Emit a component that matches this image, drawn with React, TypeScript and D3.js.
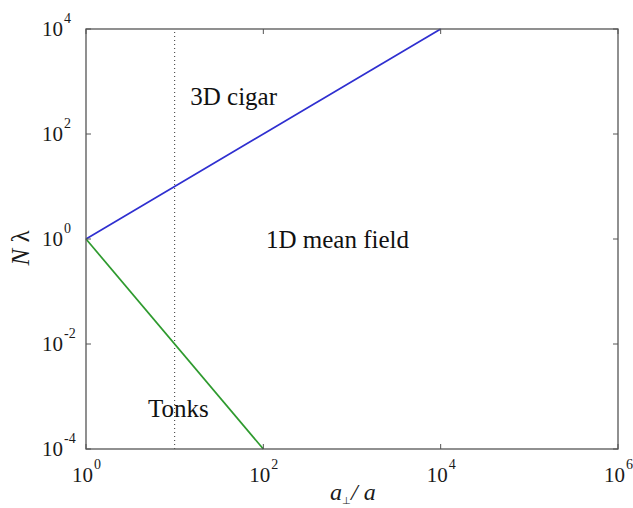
import { useEffect, useRef } from "react"
import * as d3 from "d3"

// regime boundaries (log-log)
const cigarLine = [
  { x: 1, y: 1 },
  { x: 1e4, y: 1e4 },
]
const tonksLine = [
  { x: 1, y: 1 },
  { x: 1e2, y: 1e-4 },
]
const dottedX = 10
const xTicks = [1, 1e2, 1e4, 1e6]
const yTicks = [1e-4, 1e-2, 1, 1e2, 1e4]
const labels = [
  { text: "3D cigar", x: 15, y: 10 ** 2.55 },
  { text: "1D mean field", x: 107, y: 10 ** -0.17 },
  { text: "Tonks", x: 5, y: 10 ** -3.39 },
]

const App = () => {
  const svgRef = useRef<SVGSVGElement>(null)

  useEffect(() => {
    const width = 633
    const height = 508
    const margin = { top: 29, right: 15, bottom: 59, left: 86 }
    const font = "'Liberation Serif', 'Times New Roman', serif"

    const x = d3.scaleLog().domain([1, 1e6]).range([margin.left, width - margin.right])
    const y = d3.scaleLog().domain([1e-4, 1e4]).range([height - margin.bottom, margin.top])

    const svg = d3.select(svgRef.current)
    svg.selectAll("*").remove()
    svg.attr("width", width).attr("height", height)

    svg.append("rect").attr("width", width).attr("height", height).attr("fill", "#fff")

    const x0 = x(1), x1 = x(1e6), y0 = y(1e-4), y1 = y(1e4)

    // dotted line
    svg
      .append("line")
      .attr("x1", x(dottedX))
      .attr("x2", x(dottedX))
      .attr("y1", y0)
      .attr("y2", y1)
      .attr("stroke", "#333")
      .attr("stroke-width", 1)
      .attr("stroke-dasharray", "1,3")

    const line = d3
      .line<{ x: number; y: number }>()
      .x((d) => x(d.x))
      .y((d) => y(d.y))

    svg.append("path").datum(cigarLine).attr("d", line).attr("fill", "none").attr("stroke", "#2f2fd0").attr("stroke-width", 1.7)
    svg.append("path").datum(tonksLine).attr("d", line).attr("fill", "none").attr("stroke", "#2e9a2e").attr("stroke-width", 1.7)

    // box
    svg
      .append("rect")
      .attr("x", x0)
      .attr("y", y1)
      .attr("width", x1 - x0)
      .attr("height", y0 - y1)
      .attr("fill", "none")
      .attr("stroke", "#555")
      .attr("stroke-width", 1.3)

    // ticks (inside, all four sides)
    const tl = 5
    xTicks.forEach((t) => {
      svg.append("line").attr("x1", x(t)).attr("x2", x(t)).attr("y1", y0).attr("y2", y0 - tl).attr("stroke", "#555")
      svg.append("line").attr("x1", x(t)).attr("x2", x(t)).attr("y1", y1).attr("y2", y1 + tl).attr("stroke", "#555")
    })
    yTicks.forEach((t) => {
      svg.append("line").attr("x1", x0).attr("x2", x0 + tl).attr("y1", y(t)).attr("y2", y(t)).attr("stroke", "#555")
      svg.append("line").attr("x1", x1).attr("x2", x1 - tl).attr("y1", y(t)).attr("y2", y(t)).attr("stroke", "#555")
    })

    const exp = (t: number) => Math.round(Math.log10(t))

    // x tick labels
    xTicks.forEach((t) => {
      const txt = svg
        .append("text")
        .attr("x", x(t) - 14)
        .attr("y", y0 + 33)
        .attr("font-family", font)
        .attr("font-size", 21)
        .attr("fill", "#1a1a1a")
      txt.append("tspan").text("10")
      txt.append("tspan").attr("dx", 1).attr("dy", -13).attr("font-size", 14).text(exp(t))
    })

    // y tick labels
    yTicks.forEach((t) => {
      const e = exp(t)
      const txt = svg
        .append("text")
        .attr("x", x0 - 44)
        .attr("y", y(t) + 7)
        .attr("font-family", font)
        .attr("font-size", 21)
        .attr("fill", "#1a1a1a")
      txt.append("tspan").text("10")
      txt.append("tspan").attr("dx", 1).attr("dy", -13).attr("font-size", 14).text(e)
    })

    // region labels
    labels.forEach((l) => {
      svg
        .append("text")
        .attr("x", x(l.x))
        .attr("y", y(l.y))
        .attr("font-family", font)
        .attr("font-size", 25)
        .attr("fill", "#111")
        .text(l.text)
    })

    // x axis label
    const xl = svg
      .append("text")
      .attr("x", 330)
      .attr("y", 500)
      .attr("font-family", font)
      .attr("font-size", 24)
      .attr("font-style", "italic")
      .attr("fill", "#1a1a1a")
    xl.append("tspan").text("a")
    xl.append("tspan").attr("dy", 4).attr("font-size", 10).attr("font-style", "normal").text("⊥")
    xl.append("tspan").attr("dy", -4).text("/ a")

    // y axis label
    const yl = svg
      .append("text")
      .attr("transform", `translate(29,248) rotate(-90)`)
      .attr("text-anchor", "middle")
      .attr("font-family", font)
      .attr("font-size", 25)
      .attr("fill", "#1a1a1a")
    yl.append("tspan").attr("font-style", "italic").text("N")
    yl.append("tspan").text(" λ")
  }, [])

  return (
    <div style={{ position: "absolute", left: 0, top: 0 }}>
      <svg ref={svgRef} style={{ display: "block" }}></svg>
    </div>
  )
}

export default App
